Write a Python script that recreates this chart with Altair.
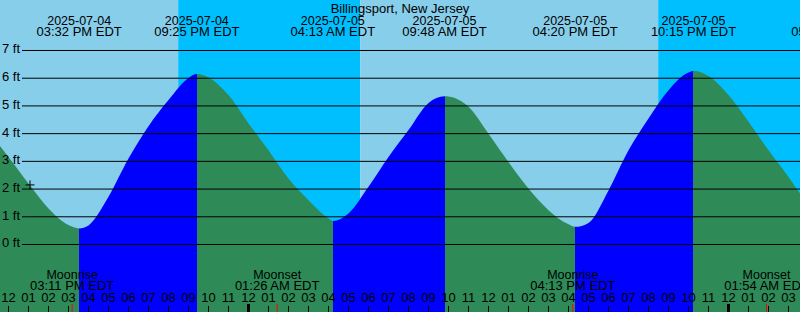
import altair as alt
import pandas as pd

FONT = "Liberation Sans"
TITLE = "Billingsport, New Jersey"

# time axis: hours after 2025-07-04 12:00 PM EDT
X_DOMAIN = [-0.425, 39.575]
Y_DOMAIN = [-2.4356, 8.8221]   # feet

# tide curve
curve_hours = [-0.425, 0, 1, 2, 3, 3.533, 4, 5, 6, 7, 8, 9, 9.417, 10, 11, 12, 13, 14,
               15, 16, 16.217, 17, 18, 19, 20, 21, 21.8, 22, 23, 24, 25, 26, 27, 28,
               28.333, 29, 30, 31, 32, 33, 34, 34.25, 35, 36, 37, 38, 39, 39.575]
curve_feet = [3.55, 3.16, 2.20, 1.30, 0.70, 0.58, 0.69, 1.72, 3.10, 4.27, 5.21, 6.01, 6.15,
              6.03, 5.39, 4.37, 3.40, 2.38, 1.60, 0.94, 0.85, 1.12, 2.08, 3.16, 4.13, 5.11,
              5.35, 5.34, 4.97, 4.00, 2.98, 2.02, 1.24, 0.73, 0.64, 0.78, 1.95, 3.40, 4.55,
              5.57, 6.21, 6.26, 6.08, 5.39, 4.43, 3.40, 2.44, 1.84]

# high / low tide events
event_hours = [3.533, 9.417, 16.217, 21.8, 28.333, 34.25, 41.25]
event_kinds = ["low", "high", "low", "high", "low", "high", "low"]
event_dates = ["2025-07-04", "2025-07-04", "2025-07-05", "2025-07-05",
               "2025-07-05", "2025-07-05", "2025-07-06"]
event_times = ["03:32 PM EDT", "09:25 PM EDT", "04:13 AM EDT", "09:48 AM EDT",
               "04:20 PM EDT", "10:15 PM EDT", "05:15 AM EDT"]

# sunset, sunrise, sunset
sun_hours = [8.483, 17.583, 32.483]

moon_hours = [3.183, 13.433, 28.217, 37.9]
moon_names = ["Moonrise", "Moonset", "Moonrise", "Moonset"]
moon_times = ["03:11 PM EDT", "01:26 AM EDT", "04:13 PM EDT", "01:54 AM EDT"]

hour_ticks = list(range(0, 40))
hour_labels = ["12", "01", "02", "03", "04", "05", "06", "07", "08", "09", "10", "11",
               "12", "01", "02", "03", "04", "05", "06", "07", "08", "09", "10", "11",
               "12", "01", "02", "03", "04", "05", "06", "07", "08", "09", "10", "11",
               "12", "01", "02", "03"]
midnight_hours = [12, 36]

ft_levels = [0, 1, 2, 3, 4, 5, 6, 7]
ft_labels = ["0 ft", "1 ft", "2 ft", "3 ft", "4 ft", "5 ft", "6 ft", "7 ft"]

marker_hour = [1.075]
marker_feet = [2.15]

DAY, NIGHT = "#87CEEB", "#00BFFF"
RISING, FALLING = "#0000FF", "#2E8B57"

xs = alt.Scale(domain=X_DOMAIN, nice=False, zero=False)
ys = alt.Scale(domain=Y_DOMAIN, nice=False, zero=False)

# ---- tables built from the arrays
bounds = [X_DOMAIN[0]] + sun_hours + [X_DOMAIN[1]]
bands = pd.DataFrame({
    "start": bounds[:-1],
    "end": bounds[1:],
    "kind": ["day", "night", "day", "night"],
})
curve = pd.DataFrame({"h": curve_hours, "ft": curve_feet})
events = pd.DataFrame({"h": event_hours, "date": event_dates, "time": event_times})
moons = pd.DataFrame({"h": moon_hours, "name": moon_names, "time": moon_times})
hours = pd.DataFrame({"h": hour_ticks, "label": hour_labels})
mids = pd.DataFrame({"h": midnight_hours})
levels = pd.DataFrame({"ft": ft_levels, "label": ft_labels})
marker = pd.DataFrame({"h": marker_hour, "ft": marker_feet})

# water colour: rising (blue) between low and high, falling (green) otherwise
span = X_DOMAIN[1] - X_DOMAIN[0]
stops = [alt.GradientStop(color=FALLING, offset=0)]
cur = FALLING
for h, k in zip(event_hours, event_kinds):
    if X_DOMAIN[0] < h < X_DOMAIN[1]:
        off = (h - X_DOMAIN[0]) / span
        new = RISING if k == "low" else FALLING
        stops.append(alt.GradientStop(color=cur, offset=off))
        stops.append(alt.GradientStop(color=new, offset=off))
        cur = new
stops.append(alt.GradientStop(color=cur, offset=1))
water_fill = alt.LinearGradient(gradient="linear", stops=stops, x1=0, x2=1, y1=0, y2=0)

sky = alt.Chart(bands).mark_rect().encode(
    x=alt.X("start:Q", scale=xs, axis=None),
    x2="end:Q",
    y=alt.Y(datum=Y_DOMAIN[1], scale=ys, axis=None),
    y2=alt.datum(Y_DOMAIN[0]),
    color=alt.Color("kind:N", scale=alt.Scale(domain=["day", "night"], range=[DAY, NIGHT]),
                    legend=None),
)

water = alt.Chart(curve).mark_area(interpolate="monotone", color=water_fill).encode(
    x=alt.X("h:Q", scale=xs, axis=None),
    y=alt.Y("ft:Q", scale=ys, axis=None, stack=None),
    y2=alt.datum(Y_DOMAIN[0]),
)

grid = alt.Chart(levels).mark_rule(color="black", strokeWidth=1).encode(
    y=alt.Y("ft:Q", scale=ys, axis=None),
    x=alt.value(22),
    x2=alt.value(800),
)

grid_labels = alt.Chart(levels).mark_text(
    align="left", baseline="middle", font=FONT, fontSize=13, color="black", dy=-1
).encode(
    y=alt.Y("ft:Q", scale=ys, axis=None),
    x=alt.value(2),
    text="label:N",
)

title = alt.Chart(pd.DataFrame({"t": [TITLE]})).mark_text(
    align="center", baseline="alphabetic", font=FONT, fontSize=13, color="black"
).encode(x=alt.value(400), y=alt.value(12.5), text="t:N")

ev_date = alt.Chart(events).mark_text(
    align="center", baseline="alphabetic", font=FONT, fontSize=12.5, color="black"
).encode(x=alt.X("h:Q", scale=xs, axis=None), y=alt.value(24.5), text="date:N")

ev_time = alt.Chart(events).mark_text(
    align="center", baseline="alphabetic", font=FONT, fontSize=13, color="black"
).encode(x=alt.X("h:Q", scale=xs, axis=None), y=alt.value(36), text="time:N")

moon_name = alt.Chart(moons).mark_text(
    align="center", baseline="alphabetic", font=FONT, fontSize=12.5, color="black"
).encode(x=alt.X("h:Q", scale=xs, axis=None), y=alt.value(278.5), text="name:N")

moon_time = alt.Chart(moons).mark_text(
    align="center", baseline="alphabetic", font=FONT, fontSize=13, color="black"
).encode(x=alt.X("h:Q", scale=xs, axis=None), y=alt.value(290), text="time:N")

hour_text = alt.Chart(hours).mark_text(
    align="center", baseline="alphabetic", font=FONT, fontSize=13, color="black"
).encode(x=alt.X("h:Q", scale=xs, axis=None), y=alt.value(302), text="label:N")

hour_rule = alt.Chart(hours).mark_rule(color="black", strokeWidth=1).encode(
    x=alt.X("h:Q", scale=xs, axis=None), y=alt.value(306), y2=alt.value(312))

mid_rule = alt.Chart(mids).mark_rule(color="black", strokeWidth=3).encode(
    x=alt.X("h:Q", scale=xs, axis=None), y=alt.value(304), y2=alt.value(312))

moon_rule = alt.Chart(moons).mark_rule(color="#FF0000", strokeWidth=1).encode(
    x=alt.X("h:Q", scale=xs, axis=None), y=alt.value(304), y2=alt.value(312))

now_mark = alt.Chart(marker).mark_point(
    shape="M-1,0L1,0M0,-1L0,1", size=80, filled=False, color="black", strokeWidth=1, opacity=1
).encode(x=alt.X("h:Q", scale=xs, axis=None), y=alt.Y("ft:Q", scale=ys, axis=None))

chart = alt.layer(
    sky, water, grid, grid_labels, title, ev_date, ev_time,
    moon_name, moon_time, hour_text, hour_rule, mid_rule, moon_rule, now_mark,
).properties(
    width=800, height=312, padding=0,
    autosize=alt.AutoSizeParams(type="none"),
).configure_view(strokeWidth=0)

chart.save("out.html", embed_options={"renderer": "svg", "actions": False})
